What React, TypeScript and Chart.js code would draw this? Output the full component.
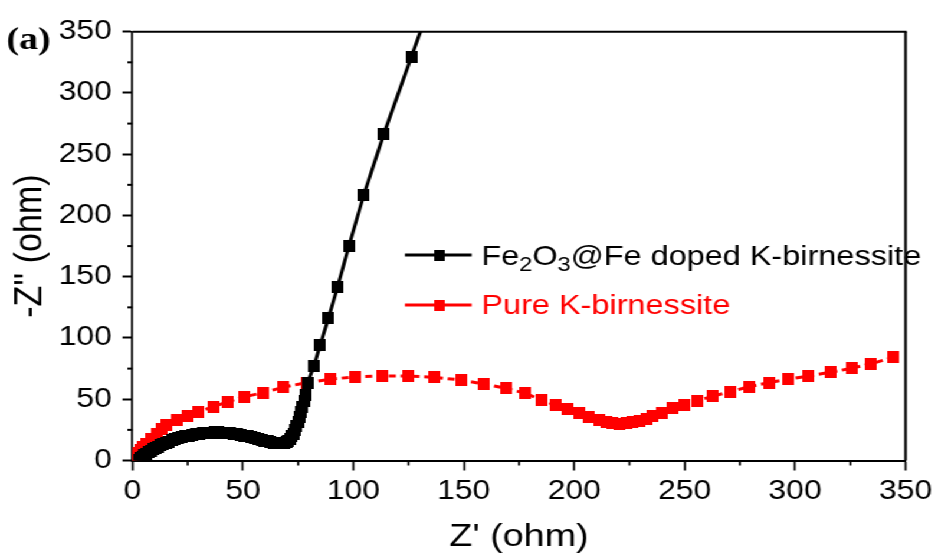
import React, { useEffect, useRef } from 'react';
import { Chart, registerables } from 'chart.js';

Chart.register(...registerables);

// ---- data (Z' in ohm, -Z'' in ohm) ----
const dopedZre = [
  3.0, 3.8, 4.6, 5.4, 6.3, 7.2, 8.2, 9.2, 10.3, 11.4, 12.6, 13.8, 15.1, 16.4, 17.8, 19.2, 20.7, 22.2, 23.8, 25.4,
  27.0, 28.7, 30.4, 32.1, 33.8, 35.5, 37.2, 38.9, 40.6, 42.3, 44.0, 45.7, 47.4, 49.1, 50.7, 52.3, 53.9, 55.4, 56.9, 58.4,
  59.8, 61.2, 62.6, 63.9, 65.2, 66.4, 67.6, 68.7, 69.7, 70.6, 71.4, 72.1, 72.8, 73.5, 74.2, 74.9, 75.6, 76.3, 77.0, 77.6,
  78.3, 79.3, 82.2, 85.0, 88.7, 92.9, 98.0, 104.7, 113.8, 126.2, 141.5,
];
const dopedZim = [
  0.6, 1.8, 3.0, 4.2, 5.4, 6.6, 7.8, 9.0, 10.2, 11.3, 12.4, 13.5, 14.5, 15.5, 16.4, 17.3, 18.1, 18.9, 19.6, 20.3,
  20.9, 21.4, 21.9, 22.3, 22.6, 22.8, 22.9, 22.9, 22.8, 22.6, 22.3, 21.9, 21.4, 20.9, 20.3, 19.7, 19.0, 18.3, 17.6, 16.9,
  16.2, 15.6, 15.0, 14.5, 14.1, 13.9, 13.9, 14.2, 14.9, 16.0, 17.6, 19.6, 22.0, 24.8, 28.0, 31.5, 35.3, 39.5, 44.0, 48.6,
  53.5, 63.5, 77.4, 94.3, 116.1, 141.9, 175.1, 216.7, 266.5, 329.1, 406.0,
];

const pureZre = [
  0.8, 1.6, 2.6, 3.7, 4.9, 6.4, 8.5, 10.9, 13.1, 15.5, 20.0, 24.8, 30.0, 36.5, 43.3, 50.8, 59.1, 68.1, 78.7, 89.6,
  101.0, 113.1, 124.6, 136.7, 148.8, 159.3, 169.1, 177.8, 185.2, 191.4, 196.9, 202.2, 206.7, 211.3, 214.5, 217.5, 220.5, 223.5, 226.5, 229.5,
  232.5, 235.5, 239.9, 244.4, 249.7, 255.7, 262.9, 270.8, 279.0, 288.1, 296.8, 306.2, 316.0, 325.7, 334.0, 344.6,
];
const pureZim = [
  1.5, 3.6, 5.9, 8.3, 10.8, 13.8, 17.6, 21.8, 25.4, 28.6, 33.0, 36.4, 39.6, 43.9, 48.0, 52.1, 55.3, 59.7, 63.5, 66.3,
  68.4, 69.0, 69.0, 67.9, 65.7, 62.4, 58.9, 54.9, 49.4, 45.3, 41.8, 38.5, 35.3, 33.1, 31.6, 30.6, 30.1, 30.4, 31.3, 32.6,
  34.2, 36.0, 39.0, 42.6, 45.3, 48.8, 52.6, 56.2, 60.2, 63.5, 66.3, 69.0, 72.0, 75.3, 78.8, 84.2,
];

const xMajorTicks = [0, 50, 100, 150, 200, 250, 300, 350];
const yMajorTicks = [0, 50, 100, 150, 200, 250, 300, 350];
const minorTicks = [25, 75, 125, 175, 225, 275, 325];

const seriesLabels = ['Fe₂O₃@Fe doped K-birnessite', 'Pure K-birnessite'];
const legendParts1 = [
  { t: 'Fe', sub: false },
  { t: '2', sub: true },
  { t: 'O', sub: false },
  { t: '3', sub: true },
  { t: '@Fe doped K-birnessite', sub: false },
];
const legendParts2 = [{ t: 'Pure K-birnessite', sub: false }];
const xTitle = "Z' (ohm)";
const yTitle = "-Z'' (ohm)";
const panelLabel = '(a)';

// ---- layout ----
const SX = 938 / 795; // horizontal stretch of the whole figure
const W = 795;
const H = 554;
const FONT = "'Liberation Sans', Arial, sans-serif";
const AREA_LEFT = 132.5 / SX;
const AREA_RIGHT = 907 / SX;
const AREA_TOP = 31.7;
const AREA_BOTTOM = 460.5;

function makeMarker(color: string, w: number, h: number) {
  const c = document.createElement('canvas');
  c.width = w;
  c.height = h;
  const g = c.getContext('2d')!;
  g.fillStyle = color;
  g.fillRect(0, 0, w, h);
  return c;
}

export default function App() {
  const ref = useRef<HTMLCanvasElement | null>(null);

  useEffect(() => {
    if (!ref.current) return;
    const blackMarker = makeMarker('#000000', 10, 12);
    const redMarker = makeMarker('#ff0000', 10, 12);
    const blackLegendMarker = makeMarker('#000000', 9, 11);
    const redLegendMarker = makeMarker('#ff0000', 9, 11);

    const drawRich = (ctx: CanvasRenderingContext2D, parts: { t: string; sub: boolean }[], x: number, y: number, color: string) => {
      let cx = x;
      ctx.fillStyle = color;
      ctx.textBaseline = 'alphabetic';
      ctx.textAlign = 'left';
      for (const p of parts) {
        ctx.font = p.sub ? `20px ${FONT}` : `27.5px ${FONT}`;
        ctx.fillText(p.t, cx, y + (p.sub ? 6 : 0));
        cx += ctx.measureText(p.t).width;
      }
    };

    const decor = {
      id: 'decor',
      afterDraw(chart: any) {
        const ctx: CanvasRenderingContext2D = chart.ctx;
        const { left, right, top, bottom } = chart.chartArea;
        const xs = chart.scales.x;
        const ys = chart.scales.y;
        ctx.save();
        // frame top & right
        ctx.strokeStyle = '#000';
        ctx.lineWidth = 2;
        ctx.beginPath();
        ctx.moveTo(left, top);
        ctx.lineTo(right + 1, top);
        ctx.stroke();
        ctx.lineWidth = 2.2;
        ctx.beginPath();
        ctx.moveTo(right, top);
        ctx.lineTo(right, bottom);
        ctx.stroke();
        // minor ticks
        ctx.lineWidth = 1.7;
        for (const v of minorTicks) {
          const px = xs.getPixelForValue(v);
          ctx.beginPath();
          ctx.moveTo(px, bottom);
          ctx.lineTo(px, bottom + 5);
          ctx.stroke();
        }
        ctx.lineWidth = 2;
        for (const v of minorTicks) {
          const py = ys.getPixelForValue(v);
          ctx.beginPath();
          ctx.moveTo(left, py);
          ctx.lineTo(left - 4.3, py);
          ctx.stroke();
        }
        // legend
        const lx0 = 343.2, lx1 = 399.7, mx = 372.3, tx = 408;
        const rows = [
          { y: 255, color: '#000000', marker: blackLegendMarker, parts: legendParts1, base: 265 },
          { y: 305, color: '#ff0000', marker: redLegendMarker, parts: legendParts2, base: 314 },
        ];
        for (const r of rows) {
          ctx.strokeStyle = r.color;
          ctx.lineWidth = 3;
          ctx.beginPath();
          ctx.moveTo(lx0, r.y);
          ctx.lineTo(lx1, r.y);
          ctx.stroke();
          ctx.drawImage(r.marker, mx - r.marker.width / 2, r.y - r.marker.height / 2);
          drawRich(ctx, r.parts, tx, r.base, r.color);
        }
        // panel label
        ctx.fillStyle = '#000';
        ctx.font = `bold 32px 'Liberation Serif', 'Times New Roman', serif`;
        ctx.textAlign = 'left';
        ctx.textBaseline = 'alphabetic';
        ctx.fillText(panelLabel, 5.5, 49);
        ctx.restore();
      },
    };

    const chart = new Chart(ref.current, {
      type: 'scatter',
      data: {
        datasets: [
          {
            label: seriesLabels[0],
            data: dopedZre.map((x, i) => ({ x, y: dopedZim[i] })),
            showLine: true,
            borderColor: '#000000',
            borderWidth: 3,
            pointStyle: blackMarker as any,
            pointRadius: 5,
            backgroundColor: '#000000',
            clip: 0 as any,
          },
          {
            label: seriesLabels[1],
            data: pureZre.map((x, i) => ({ x, y: pureZim[i] })),
            showLine: true,
            borderColor: '#ff0000',
            borderWidth: 3,
            borderDash: [6, 4],
            pointStyle: redMarker as any,
            pointRadius: 5,
            backgroundColor: '#ff0000',
            clip: 0 as any,
          },
        ],
      },
      options: {
        responsive: false,
        animation: false,
        devicePixelRatio: 1,
        events: [],
        layout: { padding: { left: 0, top: AREA_TOP, right: W - AREA_RIGHT, bottom: 0 } },
        plugins: { legend: { display: false }, tooltip: { enabled: false } },
        scales: {
          x: {
            type: 'linear',
            min: 0,
            max: 350,
            afterFit: (s: any) => { s.height = H - AREA_BOTTOM; },
            afterBuildTicks: (s: any) => { s.ticks = xMajorTicks.map((v) => ({ value: v })); },
            ticks: { font: { family: FONT, size: 27 }, color: '#000', padding: 5, maxRotation: 0, autoSkip: false },
            grid: { drawOnChartArea: false, drawTicks: true, tickLength: 10, tickColor: '#000', tickWidth: 1.7 },
            border: { display: true, color: '#000', width: 2 },
            title: { display: true, text: xTitle, color: '#000', font: { family: FONT, size: 32, lineHeight: 1 }, padding: { top: 0, bottom: 1 } },
          },
          y: {
            type: 'linear',
            min: 0,
            max: 350,
            afterFit: (s: any) => { s.width = AREA_LEFT; },
            afterBuildTicks: (s: any) => { s.ticks = yMajorTicks.map((v) => ({ value: v })); },
            ticks: { font: { family: FONT, size: 27 }, color: '#000', padding: 9, autoSkip: false },
            grid: { drawOnChartArea: false, drawTicks: true, tickLength: 8.5, tickColor: '#000', tickWidth: 2 },
            border: { display: true, color: '#000', width: 1.7 },
            title: { display: true, text: yTitle, color: '#000', font: { family: FONT, size: 34, lineHeight: 1 }, padding: { top: 9, bottom: 0 } },
          },
        },
      },
      plugins: [decor],
    } as any);
    return () => chart.destroy();
  }, []);

  return (
    <div
      style={{
        position: 'fixed',
        left: 0,
        top: 0,
        width: W,
        height: H,
        transform: `scaleX(${SX})`,
        transformOrigin: '0 0',
        background: '#fff',
      }}
    >
      <canvas ref={ref} width={W} height={H} style={{ display: 'block' }} />
    </div>
  );
}
